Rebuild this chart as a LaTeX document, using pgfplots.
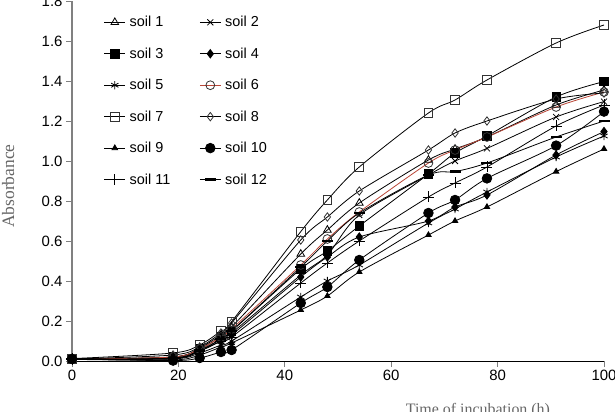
\documentclass[border=0pt]{standalone}
\usepackage{fontspec}
\setmainfont{Liberation Sans}
\newfontfamily\labelfont{Liberation Serif}
\usepackage{pgfplots}
\usepackage{pgfplotstable}
\pgfplotsset{compat=1.18}

\definecolor{soilred}{RGB}{185,70,55}
\definecolor{axisgray}{RGB}{128,128,128}

% Absorbance of the twelve soils against incubation time (h)
\pgfplotstableread{
t    s1    s2    s3    s4    s5    s6    s7    s8    s9    s10   s11   s12
0    0.010 0.010 0.010 0.010 0.010 0.010 0.012 0.010 0.008 0.010 0.010 0.010
19   0.020 0.015 0.020 0.012 0.010 0.020 0.040 0.030 0.005 0.002 0.012 0.015
24   0.065 0.050 0.060 0.050 0.040 0.060 0.080 0.070 0.030 0.015 0.050 0.055
28   0.130 0.110 0.120 0.100 0.080 0.120 0.150 0.140 0.070 0.045 0.100 0.110
30   0.170 0.140 0.150 0.130 0.100 0.160 0.197 0.190 0.090 0.055 0.120 0.150
43   0.535 0.430 0.460 0.420 0.320 0.480 0.647 0.605 0.255 0.290 0.390 0.470
48   0.655 0.530 0.550 0.520 0.400 0.610 0.805 0.720 0.325 0.370 0.490 0.600
54   0.790 0.730 0.675 0.620 0.480 0.745 0.970 0.850 0.445 0.505 0.600 0.740
67   1.005 0.930 0.935 0.700 0.690 0.990 1.240 1.055 0.630 0.740 0.820 0.930
72   1.060 1.000 1.040 0.770 0.760 1.055 1.305 1.140 0.700 0.805 0.890 0.947
78   1.120 1.063 1.125 0.830 0.845 1.120 1.405 1.200 0.770 0.913 0.970 0.990
91   1.280 1.220 1.320 1.030 1.020 1.270 1.590 1.310 0.947 1.077 1.175 1.120
100  1.355 1.297 1.397 1.147 1.125 1.345 1.680 1.340 1.060 1.247 1.280 1.200
}\absdata

\begin{document}
\begin{tikzpicture}
\begin{axis}[
  scale only axis, width=532bp, height=360bp,
  xmin=0, xmax=100, ymin=0, ymax=1.8,
  clip=false,
  axis x line*=bottom, axis y line*=left,
  xtick={0,20,40,60,80,100},
  ytick={0,0.2,0.4,0.6,0.8,1.0,1.2,1.4,1.6,1.8},
  yticklabel style={/pgf/number format/.cd, fixed, fixed zerofill, precision=1},
  /pgf/number format/assume math mode=true,
  tick align=outside, major tick length=6bp,
  tick style={axisgray, line width=0.8bp},
  x axis line style={black, line width=0.8bp},
  y axis line style={axisgray, line width=1.3bp},
  ticklabel style={font=\fontsize{15}{17}\selectfont, text=black},
  xlabel={Time of incubation (h)}, ylabel={Absorbance},
  label style={text=black!60},
  xlabel style={font=\labelfont\fontsize{16}{18}\selectfont,
    at={(axis description cs:0.763,0)}, anchor=north, yshift=-39bp},
  ylabel style={font=\labelfont\fontsize{17.5}{19}\selectfont,
    at={(axis description cs:-0.12,0.486)}, anchor=center},
  legend columns=2,
  legend cell align=left,
  legend style={draw=none, fill=none, at={(axis description cs:0.054,0.969)},
    anchor=north west, font=\fontsize{14.5}{16}\selectfont, row sep=15.5bp,
    /tikz/every even column/.append style={column sep=25bp},
    nodes={inner xsep=4bp}},
  legend image code/.code={\draw[mark repeat=2,mark phase=2]
    plot coordinates {(0bp,0bp) (10.5bp,0bp) (21bp,0bp)};},
  every axis plot/.append style={line width=0.8bp, black, smooth, tension=0.5},
]
\addplot[mark=triangle, mark size=4.4bp, mark options={fill=white, line width=0.8bp}] table[x=t, y=s1] {\absdata};
\addlegendentry{soil 1}
\addplot[mark=x, mark size=4.2bp, mark options={line width=0.8bp}] table[x=t, y=s2] {\absdata};
\addlegendentry{soil 2}
\addplot[mark=square*, mark size=4.2bp] table[x=t, y=s3] {\absdata};
\addlegendentry{soil 3}
\addplot[mark=diamond*, mark size=4.2bp] table[x=t, y=s4] {\absdata};
\addlegendentry{soil 4}
\addplot[mark=asterisk, mark size=4.2bp, mark options={line width=0.8bp}] table[x=t, y=s5] {\absdata};
\addlegendentry{soil 5}
\addplot[soilred, mark=o, mark size=4.4bp, mark options={draw=black!80, fill=white, line width=0.8bp}] table[x=t, y=s6] {\absdata};
\addlegendentry{soil 6}
\addplot[mark=square, mark size=4.4bp, mark options={fill=white, draw=black!80, line width=0.8bp}] table[x=t, y=s7] {\absdata};
\addlegendentry{soil 7}
\addplot[mark=diamond, mark size=4.2bp, mark options={fill=white, draw=black!80, line width=0.8bp}] table[x=t, y=s8] {\absdata};
\addlegendentry{soil 8}
\addplot[mark=triangle*, mark size=3.2bp] table[x=t, y=s9] {\absdata};
\addlegendentry{soil 9}
\addplot[mark=*, mark size=4.8bp] table[x=t, y=s10] {\absdata};
\addlegendentry{soil 10}
\addplot[mark=+, mark size=5.5bp, mark options={line width=0.8bp}] table[x=t, y=s11] {\absdata};
\addlegendentry{soil 11}
\addplot[mark=-, mark size=5.5bp, mark options={line width=2.6bp}] table[x=t, y=s12] {\absdata};
\addlegendentry{soil 12}
\coordinate (bl) at (axis cs:0,0);
\coordinate (tr) at (axis cs:100,1.8);
\end{axis}
\pgfresetboundingbox
\path[use as bounding box] ([xshift=-72bp,yshift=-51bp]bl) rectangle ([xshift=11bp,yshift=1bp]tr);
\end{tikzpicture}
\end{document}
